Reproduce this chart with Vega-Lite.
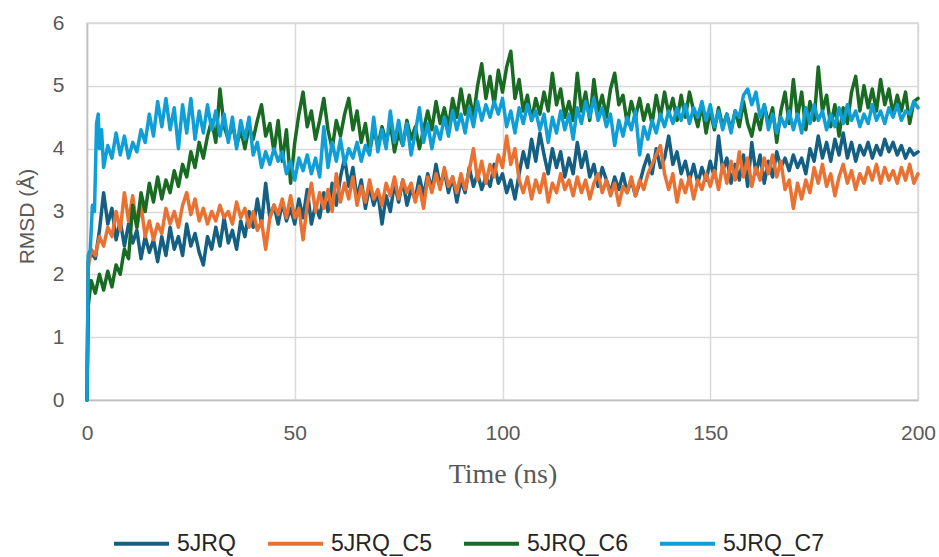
{
  "$schema": "https://vega.github.io/schema/vega-lite/v6.json",
  "width": 831,
  "height": 377,
  "autosize": {"type": "none"},
  "padding": {"left": 87, "top": 23, "right": 21, "bottom": 157},
  "background": "white",
  "datasets": {
    "jrq": [
      {"t":0,"v":0},{"t":0.3,"v":2.2},{"t":1,"v":2.35},{"t":2,"v":2.25},{"t":3,"v":2.7},{"t":4,"v":3.3},{"t":5,"v":2.8},{"t":6,"v":3.05},{"t":7,"v":2.55},{"t":8,"v":2.85},{"t":9,"v":2.45},
      {"t":10,"v":2.8},{"t":11,"v":2.5},{"t":12,"v":2.7},{"t":13,"v":2.25},{"t":14,"v":2.6},{"t":15,"v":2.35},{"t":16,"v":2.55},{"t":17,"v":2.2},{"t":18,"v":2.6},{"t":19,"v":2.3},
      {"t":20,"v":2.75},{"t":21,"v":2.4},{"t":22,"v":2.6},{"t":23,"v":2.3},{"t":24,"v":2.8},{"t":25,"v":2.45},{"t":26,"v":2.65},{"t":27,"v":2.35},{"t":28,"v":2.15},{"t":29,"v":2.6},
      {"t":30,"v":2.4},{"t":31,"v":2.75},{"t":32,"v":2.45},{"t":33,"v":2.9},{"t":34,"v":2.5},{"t":35,"v":2.7},{"t":36,"v":2.4},{"t":37,"v":2.85},{"t":38,"v":2.6},{"t":39,"v":3.0},
      {"t":40,"v":2.75},{"t":41,"v":3.2},{"t":42,"v":2.8},{"t":43,"v":3.45},{"t":44,"v":2.9},{"t":45,"v":3.1},{"t":46,"v":2.8},{"t":47,"v":3.15},{"t":48,"v":2.85},{"t":49,"v":3.05},
      {"t":50,"v":2.8},{"t":51,"v":3.2},{"t":52,"v":2.9},{"t":53,"v":3.35},{"t":54,"v":2.8},{"t":55,"v":3.1},{"t":56,"v":2.9},{"t":57,"v":3.3},{"t":58,"v":3.0},{"t":59,"v":3.45},
      {"t":60,"v":3.1},{"t":61,"v":3.55},{"t":62,"v":3.85},{"t":63,"v":3.4},{"t":64,"v":3.7},{"t":65,"v":3.2},{"t":66,"v":3.5},{"t":67,"v":3.05},{"t":68,"v":3.4},{"t":69,"v":3.1},
      {"t":70,"v":3.3},{"t":71,"v":2.8},{"t":72,"v":3.25},{"t":73,"v":3.0},{"t":74,"v":3.45},{"t":75,"v":3.15},{"t":76,"v":3.5},{"t":77,"v":3.1},{"t":78,"v":3.35},{"t":79,"v":3.2},
      {"t":80,"v":3.55},{"t":81,"v":3.25},{"t":82,"v":3.6},{"t":83,"v":3.35},{"t":84,"v":3.75},{"t":85,"v":3.4},{"t":86,"v":3.65},{"t":87,"v":3.3},{"t":88,"v":3.55},{"t":89,"v":3.15},
      {"t":90,"v":3.5},{"t":91,"v":3.3},{"t":92,"v":3.7},{"t":93,"v":3.4},{"t":94,"v":3.6},{"t":95,"v":3.35},{"t":96,"v":3.55},{"t":97,"v":3.4},{"t":98,"v":3.75},{"t":99,"v":3.45},
      {"t":100,"v":3.6},{"t":101,"v":3.3},{"t":102,"v":3.5},{"t":103,"v":3.2},{"t":104,"v":3.6},{"t":105,"v":3.95},{"t":106,"v":3.7},{"t":107,"v":4.15},{"t":108,"v":3.8},{"t":109,"v":4.25},
      {"t":110,"v":3.9},{"t":111,"v":3.6},{"t":112,"v":4.0},{"t":113,"v":3.7},{"t":114,"v":3.95},{"t":115,"v":3.55},{"t":116,"v":3.85},{"t":117,"v":3.6},{"t":118,"v":4.1},{"t":119,"v":3.7},
      {"t":120,"v":3.95},{"t":121,"v":3.55},{"t":122,"v":3.75},{"t":123,"v":3.4},{"t":124,"v":3.7},{"t":125,"v":3.5},{"t":126,"v":3.3},{"t":127,"v":3.55},{"t":128,"v":3.35},{"t":129,"v":3.6},
      {"t":130,"v":3.3},{"t":131,"v":3.5},{"t":132,"v":3.25},{"t":133,"v":3.45},{"t":134,"v":3.7},{"t":135,"v":3.9},{"t":136,"v":3.6},{"t":137,"v":4.0},{"t":138,"v":3.7},{"t":139,"v":3.85},
      {"t":140,"v":4.2},{"t":141,"v":3.75},{"t":142,"v":3.95},{"t":143,"v":3.6},{"t":144,"v":3.8},{"t":145,"v":3.5},{"t":146,"v":3.75},{"t":147,"v":3.45},{"t":148,"v":3.7},{"t":149,"v":3.5},
      {"t":150,"v":3.8},{"t":151,"v":3.55},{"t":152,"v":4.2},{"t":153,"v":3.65},{"t":154,"v":3.85},{"t":155,"v":3.45},{"t":156,"v":3.75},{"t":157,"v":3.5},{"t":158,"v":3.9},{"t":159,"v":3.4},
      {"t":160,"v":4.1},{"t":161,"v":3.6},{"t":162,"v":3.9},{"t":163,"v":3.45},{"t":164,"v":3.8},{"t":165,"v":3.55},{"t":166,"v":3.95},{"t":167,"v":3.7},{"t":168,"v":3.85},{"t":169,"v":3.65},
      {"t":170,"v":3.9},{"t":171,"v":3.7},{"t":172,"v":3.85},{"t":173,"v":3.6},{"t":174,"v":4.0},{"t":175,"v":3.8},{"t":176,"v":4.2},{"t":177,"v":3.85},{"t":178,"v":4.1},{"t":179,"v":3.8},
      {"t":180,"v":4.15},{"t":181,"v":3.9},{"t":182,"v":4.25},{"t":183,"v":3.85},{"t":184,"v":4.1},{"t":185,"v":3.8},{"t":186,"v":4.05},{"t":187,"v":3.9},{"t":188,"v":4.1},{"t":189,"v":3.85},
      {"t":190,"v":4.05},{"t":191,"v":3.9},{"t":192,"v":4.15},{"t":193,"v":3.95},{"t":194,"v":4.1},{"t":195,"v":3.9},{"t":196,"v":4.05},{"t":197,"v":3.85},{"t":198,"v":4.0},{"t":199,"v":3.9},
      {"t":200,"v":3.95}
    ],
    "c5": [
      {"t":0,"v":0},{"t":0.3,"v":2.1},{"t":1,"v":2.4},{"t":2,"v":2.3},{"t":3,"v":2.6},{"t":4,"v":2.45},{"t":5,"v":2.75},{"t":6,"v":2.6},{"t":7,"v":3.0},{"t":8,"v":2.7},{"t":9,"v":3.3},
      {"t":10,"v":2.85},{"t":11,"v":3.25},{"t":12,"v":2.75},{"t":13,"v":3.1},{"t":14,"v":2.6},{"t":15,"v":2.85},{"t":16,"v":2.55},{"t":17,"v":2.8},{"t":18,"v":2.65},{"t":19,"v":3.05},
      {"t":20,"v":2.8},{"t":21,"v":3.0},{"t":22,"v":2.75},{"t":23,"v":3.1},{"t":24,"v":3.3},{"t":25,"v":2.95},{"t":26,"v":3.2},{"t":27,"v":2.85},{"t":28,"v":3.05},{"t":29,"v":2.8},
      {"t":30,"v":3.0},{"t":31,"v":2.85},{"t":32,"v":3.1},{"t":33,"v":2.9},{"t":34,"v":3.0},{"t":35,"v":2.8},{"t":36,"v":3.15},{"t":37,"v":2.9},{"t":38,"v":3.05},{"t":39,"v":2.75},
      {"t":40,"v":3.0},{"t":41,"v":2.7},{"t":42,"v":2.85},{"t":43,"v":2.4},{"t":44,"v":2.9},{"t":45,"v":3.1},{"t":46,"v":2.95},{"t":47,"v":3.2},{"t":48,"v":2.9},{"t":49,"v":3.25},
      {"t":50,"v":2.9},{"t":51,"v":3.05},{"t":52,"v":2.55},{"t":53,"v":3.1},{"t":54,"v":3.45},{"t":55,"v":3.0},{"t":56,"v":3.3},{"t":57,"v":3.05},{"t":58,"v":3.35},{"t":59,"v":3.0},
      {"t":60,"v":3.6},{"t":61,"v":3.15},{"t":62,"v":3.45},{"t":63,"v":3.2},{"t":64,"v":3.55},{"t":65,"v":3.1},{"t":66,"v":3.4},{"t":67,"v":3.15},{"t":68,"v":3.5},{"t":69,"v":3.2},
      {"t":70,"v":3.35},{"t":71,"v":3.1},{"t":72,"v":3.45},{"t":73,"v":3.25},{"t":74,"v":3.55},{"t":75,"v":3.2},{"t":76,"v":3.5},{"t":77,"v":3.3},{"t":78,"v":3.45},{"t":79,"v":3.15},
      {"t":80,"v":3.4},{"t":81,"v":3.05},{"t":82,"v":3.55},{"t":83,"v":3.3},{"t":84,"v":3.6},{"t":85,"v":3.35},{"t":86,"v":3.7},{"t":87,"v":3.4},{"t":88,"v":3.55},{"t":89,"v":3.3},
      {"t":90,"v":3.6},{"t":91,"v":3.35},{"t":92,"v":3.65},{"t":93,"v":4.0},{"t":94,"v":3.5},{"t":95,"v":3.8},{"t":96,"v":3.45},{"t":97,"v":3.75},{"t":98,"v":3.55},{"t":99,"v":3.9},
      {"t":100,"v":3.7},{"t":101,"v":4.2},{"t":102,"v":3.75},{"t":103,"v":4.0},{"t":104,"v":3.5},{"t":105,"v":3.3},{"t":106,"v":3.55},{"t":107,"v":3.2},{"t":108,"v":3.5},{"t":109,"v":3.3},
      {"t":110,"v":3.6},{"t":111,"v":3.15},{"t":112,"v":3.45},{"t":113,"v":3.3},{"t":114,"v":3.6},{"t":115,"v":3.35},{"t":116,"v":3.5},{"t":117,"v":3.25},{"t":118,"v":3.55},{"t":119,"v":3.3},
      {"t":120,"v":3.5},{"t":121,"v":3.2},{"t":122,"v":3.45},{"t":123,"v":3.6},{"t":124,"v":3.3},{"t":125,"v":3.5},{"t":126,"v":3.25},{"t":127,"v":3.45},{"t":128,"v":3.1},{"t":129,"v":3.4},
      {"t":130,"v":3.3},{"t":131,"v":3.55},{"t":132,"v":3.25},{"t":133,"v":3.5},{"t":134,"v":3.35},{"t":135,"v":3.6},{"t":136,"v":3.75},{"t":137,"v":3.9},{"t":138,"v":4.05},{"t":139,"v":3.6},
      {"t":140,"v":3.35},{"t":141,"v":3.6},{"t":142,"v":3.15},{"t":143,"v":3.5},{"t":144,"v":3.3},{"t":145,"v":3.55},{"t":146,"v":3.2},{"t":147,"v":3.5},{"t":148,"v":3.35},{"t":149,"v":3.6},
      {"t":150,"v":3.4},{"t":151,"v":3.65},{"t":152,"v":3.35},{"t":153,"v":3.75},{"t":154,"v":3.45},{"t":155,"v":3.8},{"t":156,"v":3.5},{"t":157,"v":3.95},{"t":158,"v":3.55},{"t":159,"v":3.85},
      {"t":160,"v":3.4},{"t":161,"v":3.7},{"t":162,"v":3.5},{"t":163,"v":3.85},{"t":164,"v":3.6},{"t":165,"v":3.9},{"t":166,"v":3.55},{"t":167,"v":3.8},{"t":168,"v":3.35},{"t":169,"v":3.5},
      {"t":170,"v":3.05},{"t":171,"v":3.45},{"t":172,"v":3.2},{"t":173,"v":3.5},{"t":174,"v":3.3},{"t":175,"v":3.7},{"t":176,"v":3.45},{"t":177,"v":3.75},{"t":178,"v":3.4},{"t":179,"v":3.6},
      {"t":180,"v":3.25},{"t":181,"v":3.55},{"t":182,"v":3.75},{"t":183,"v":3.45},{"t":184,"v":3.65},{"t":185,"v":3.35},{"t":186,"v":3.6},{"t":187,"v":3.45},{"t":188,"v":3.7},{"t":189,"v":3.5},
      {"t":190,"v":3.75},{"t":191,"v":3.45},{"t":192,"v":3.7},{"t":193,"v":3.5},{"t":194,"v":3.65},{"t":195,"v":3.45},{"t":196,"v":3.7},{"t":197,"v":3.5},{"t":198,"v":3.75},{"t":199,"v":3.45},
      {"t":200,"v":3.6}
    ],
    "c6": [
      {"t":0,"v":0},{"t":0.3,"v":1.5},{"t":1,"v":1.9},{"t":2,"v":1.7},{"t":3,"v":2.0},{"t":4,"v":1.75},{"t":5,"v":2.05},{"t":6,"v":1.8},{"t":7,"v":2.15},{"t":8,"v":2.0},{"t":9,"v":2.4},
      {"t":10,"v":2.25},{"t":11,"v":3.1},{"t":12,"v":2.75},{"t":13,"v":3.3},{"t":14,"v":3.0},{"t":15,"v":3.45},{"t":16,"v":3.15},{"t":17,"v":3.55},{"t":18,"v":3.2},{"t":19,"v":3.5},
      {"t":20,"v":3.3},{"t":21,"v":3.65},{"t":22,"v":3.4},{"t":23,"v":3.75},{"t":24,"v":3.55},{"t":25,"v":3.95},{"t":26,"v":3.7},{"t":27,"v":4.1},{"t":28,"v":3.85},{"t":29,"v":4.2},
      {"t":30,"v":4.45},{"t":31,"v":4.1},{"t":32,"v":4.95},{"t":33,"v":4.35},{"t":34,"v":4.15},{"t":35,"v":4.4},{"t":36,"v":4.05},{"t":37,"v":4.3},{"t":38,"v":4.0},{"t":39,"v":4.35},
      {"t":40,"v":4.15},{"t":41,"v":4.45},{"t":42,"v":4.7},{"t":43,"v":4.2},{"t":44,"v":4.4},{"t":45,"v":3.95},{"t":46,"v":4.45},{"t":47,"v":3.8},{"t":48,"v":4.3},{"t":49,"v":3.45},
      {"t":50,"v":4.1},{"t":51,"v":4.55},{"t":52,"v":4.9},{"t":53,"v":4.35},{"t":54,"v":4.6},{"t":55,"v":4.15},{"t":56,"v":4.45},{"t":57,"v":4.8},{"t":58,"v":4.3},{"t":59,"v":4.0},
      {"t":60,"v":4.45},{"t":61,"v":4.2},{"t":62,"v":4.55},{"t":63,"v":4.8},{"t":64,"v":4.3},{"t":65,"v":4.6},{"t":66,"v":4.1},{"t":67,"v":4.4},{"t":68,"v":3.95},{"t":69,"v":4.3},
      {"t":70,"v":4.05},{"t":71,"v":4.35},{"t":72,"v":4.1},{"t":73,"v":4.4},{"t":74,"v":3.95},{"t":75,"v":4.25},{"t":76,"v":4.05},{"t":77,"v":4.45},{"t":78,"v":4.15},{"t":79,"v":4.35},
      {"t":80,"v":4.0},{"t":81,"v":4.3},{"t":82,"v":4.6},{"t":83,"v":4.3},{"t":84,"v":4.75},{"t":85,"v":4.4},{"t":86,"v":4.65},{"t":87,"v":4.35},{"t":88,"v":4.8},{"t":89,"v":4.5},
      {"t":90,"v":4.95},{"t":91,"v":4.55},{"t":92,"v":4.85},{"t":93,"v":4.5},{"t":94,"v":5.0},{"t":95,"v":5.35},{"t":96,"v":4.8},{"t":97,"v":5.15},{"t":98,"v":4.7},{"t":99,"v":5.25},
      {"t":100,"v":4.9},{"t":101,"v":5.3},{"t":102,"v":5.55},{"t":103,"v":4.8},{"t":104,"v":5.1},{"t":105,"v":4.6},{"t":106,"v":4.85},{"t":107,"v":4.45},{"t":108,"v":4.8},{"t":109,"v":4.55},
      {"t":110,"v":4.9},{"t":111,"v":4.6},{"t":112,"v":5.2},{"t":113,"v":4.7},{"t":114,"v":4.95},{"t":115,"v":4.5},{"t":116,"v":4.75},{"t":117,"v":4.45},{"t":118,"v":5.2},{"t":119,"v":4.6},
      {"t":120,"v":4.9},{"t":121,"v":4.45},{"t":122,"v":5.1},{"t":123,"v":4.6},{"t":124,"v":4.85},{"t":125,"v":4.5},{"t":126,"v":4.95},{"t":127,"v":5.2},{"t":128,"v":4.7},{"t":129,"v":4.85},
      {"t":130,"v":4.4},{"t":131,"v":4.75},{"t":132,"v":4.5},{"t":133,"v":4.8},{"t":134,"v":4.45},{"t":135,"v":4.7},{"t":136,"v":4.4},{"t":137,"v":4.85},{"t":138,"v":4.5},{"t":139,"v":4.9},
      {"t":140,"v":4.55},{"t":141,"v":4.8},{"t":142,"v":4.45},{"t":143,"v":4.85},{"t":144,"v":4.5},{"t":145,"v":4.9},{"t":146,"v":4.6},{"t":147,"v":4.35},{"t":148,"v":4.7},{"t":149,"v":4.25},
      {"t":150,"v":4.6},{"t":151,"v":4.3},{"t":152,"v":4.65},{"t":153,"v":4.35},{"t":154,"v":4.55},{"t":155,"v":4.3},{"t":156,"v":4.6},{"t":157,"v":4.35},{"t":158,"v":4.75},{"t":159,"v":4.4},
      {"t":160,"v":4.2},{"t":161,"v":4.55},{"t":162,"v":4.3},{"t":163,"v":4.7},{"t":164,"v":4.4},{"t":165,"v":4.65},{"t":166,"v":4.1},{"t":167,"v":4.6},{"t":168,"v":4.9},{"t":169,"v":4.4},
      {"t":170,"v":5.1},{"t":171,"v":4.5},{"t":172,"v":4.9},{"t":173,"v":4.3},{"t":174,"v":4.75},{"t":175,"v":4.45},{"t":176,"v":5.3},{"t":177,"v":4.6},{"t":178,"v":4.85},{"t":179,"v":4.35},
      {"t":180,"v":4.7},{"t":181,"v":4.2},{"t":182,"v":4.65},{"t":183,"v":4.4},{"t":184,"v":4.9},{"t":185,"v":5.15},{"t":186,"v":4.6},{"t":187,"v":5.0},{"t":188,"v":4.65},{"t":189,"v":4.95},
      {"t":190,"v":4.6},{"t":191,"v":5.1},{"t":192,"v":4.7},{"t":193,"v":4.95},{"t":194,"v":4.55},{"t":195,"v":4.85},{"t":196,"v":4.6},{"t":197,"v":4.9},{"t":198,"v":4.4},{"t":199,"v":4.75},
      {"t":200,"v":4.8}
    ],
    "c7": [
      {"t":0,"v":0},{"t":0.3,"v":2.3},{"t":0.8,"v":2.4},{"t":1.3,"v":3.1},{"t":1.8,"v":3.0},{"t":2.3,"v":4.4},{"t":2.7,"v":4.55},{"t":3,"v":4.0},{"t":3.5,"v":4.3},{"t":4,"v":3.7},
      {"t":5,"v":4.05},{"t":6,"v":3.85},{"t":7,"v":4.25},{"t":8,"v":3.9},{"t":9,"v":4.2},{"t":10,"v":3.85},{"t":11,"v":4.1},{"t":12,"v":3.95},{"t":13,"v":4.3},{"t":14,"v":4.1},
      {"t":15,"v":4.55},{"t":16,"v":4.2},{"t":17,"v":4.75},{"t":18,"v":4.35},{"t":19,"v":4.8},{"t":20,"v":4.3},{"t":21,"v":4.65},{"t":22,"v":4.0},{"t":23,"v":4.7},{"t":24,"v":4.25},
      {"t":25,"v":4.8},{"t":26,"v":4.15},{"t":27,"v":4.6},{"t":28,"v":4.25},{"t":29,"v":4.7},{"t":30,"v":4.3},{"t":31,"v":4.6},{"t":32,"v":4.2},{"t":33,"v":4.55},{"t":34,"v":4.1},
      {"t":35,"v":4.5},{"t":36,"v":4.0},{"t":37,"v":4.45},{"t":38,"v":4.15},{"t":39,"v":4.5},{"t":40,"v":3.9},{"t":41,"v":4.1},{"t":42,"v":3.7},{"t":43,"v":3.95},{"t":44,"v":3.75},
      {"t":45,"v":4.0},{"t":46,"v":3.8},{"t":47,"v":3.95},{"t":48,"v":3.6},{"t":49,"v":3.8},{"t":50,"v":3.5},{"t":51,"v":3.85},{"t":52,"v":3.65},{"t":53,"v":3.9},{"t":54,"v":3.6},
      {"t":55,"v":3.85},{"t":56,"v":3.55},{"t":57,"v":4.35},{"t":58,"v":3.7},{"t":59,"v":4.1},{"t":60,"v":3.8},{"t":61,"v":4.15},{"t":62,"v":3.75},{"t":63,"v":4.0},{"t":64,"v":3.85},
      {"t":65,"v":4.1},{"t":66,"v":3.8},{"t":67,"v":4.05},{"t":68,"v":3.9},{"t":69,"v":4.5},{"t":70,"v":3.95},{"t":71,"v":4.3},{"t":72,"v":4.0},{"t":73,"v":4.6},{"t":74,"v":4.1},
      {"t":75,"v":4.45},{"t":76,"v":4.05},{"t":77,"v":4.4},{"t":78,"v":3.9},{"t":79,"v":4.25},{"t":80,"v":4.65},{"t":81,"v":4.1},{"t":82,"v":4.4},{"t":83,"v":4.0},{"t":84,"v":4.35},
      {"t":85,"v":4.15},{"t":86,"v":4.5},{"t":87,"v":4.2},{"t":88,"v":4.6},{"t":89,"v":4.3},{"t":90,"v":4.55},{"t":91,"v":4.25},{"t":92,"v":4.65},{"t":93,"v":4.35},{"t":94,"v":4.75},
      {"t":95,"v":4.45},{"t":96,"v":4.7},{"t":97,"v":4.5},{"t":98,"v":4.75},{"t":99,"v":4.55},{"t":100,"v":4.8},{"t":101,"v":4.35},{"t":102,"v":4.6},{"t":103,"v":4.25},{"t":104,"v":4.65},
      {"t":105,"v":4.4},{"t":106,"v":4.7},{"t":107,"v":4.45},{"t":108,"v":4.6},{"t":109,"v":4.3},{"t":110,"v":4.55},{"t":111,"v":4.1},{"t":112,"v":4.5},{"t":113,"v":4.25},{"t":114,"v":4.6},
      {"t":115,"v":4.3},{"t":116,"v":4.55},{"t":117,"v":4.15},{"t":118,"v":4.65},{"t":119,"v":4.4},{"t":120,"v":4.75},{"t":121,"v":4.5},{"t":122,"v":4.8},{"t":123,"v":4.45},{"t":124,"v":4.65},
      {"t":125,"v":4.35},{"t":126,"v":4.55},{"t":127,"v":4.05},{"t":128,"v":4.45},{"t":129,"v":4.2},{"t":130,"v":4.5},{"t":131,"v":4.3},{"t":132,"v":4.6},{"t":133,"v":3.9},{"t":134,"v":4.35},
      {"t":135,"v":4.15},{"t":136,"v":4.45},{"t":137,"v":4.25},{"t":138,"v":4.55},{"t":139,"v":4.35},{"t":140,"v":4.6},{"t":141,"v":4.4},{"t":142,"v":4.65},{"t":143,"v":4.45},{"t":144,"v":4.7},
      {"t":145,"v":4.4},{"t":146,"v":4.65},{"t":147,"v":4.5},{"t":148,"v":4.75},{"t":149,"v":4.45},{"t":150,"v":4.7},{"t":151,"v":4.35},{"t":152,"v":4.6},{"t":153,"v":4.3},{"t":154,"v":4.55},
      {"t":155,"v":4.25},{"t":156,"v":4.6},{"t":157,"v":4.5},{"t":158,"v":4.85},{"t":159,"v":4.95},{"t":160,"v":4.7},{"t":161,"v":4.9},{"t":162,"v":4.5},{"t":163,"v":4.7},{"t":164,"v":4.3},
      {"t":165,"v":4.55},{"t":166,"v":4.25},{"t":167,"v":4.5},{"t":168,"v":4.35},{"t":169,"v":4.6},{"t":170,"v":4.3},{"t":171,"v":4.55},{"t":172,"v":4.25},{"t":173,"v":4.65},{"t":174,"v":4.4},
      {"t":175,"v":4.7},{"t":176,"v":4.45},{"t":177,"v":4.6},{"t":178,"v":4.3},{"t":179,"v":4.55},{"t":180,"v":4.35},{"t":181,"v":4.65},{"t":182,"v":4.4},{"t":183,"v":4.7},{"t":184,"v":4.45},
      {"t":185,"v":4.6},{"t":186,"v":4.35},{"t":187,"v":4.55},{"t":188,"v":4.4},{"t":189,"v":4.7},{"t":190,"v":4.45},{"t":191,"v":4.6},{"t":192,"v":4.4},{"t":193,"v":4.65},{"t":194,"v":4.5},
      {"t":195,"v":4.7},{"t":196,"v":4.45},{"t":197,"v":4.6},{"t":198,"v":4.55},{"t":199,"v":4.75},{"t":200,"v":4.65}
    ]
  },
  "encoding": {
    "x": {
      "field": "t",
      "type": "quantitative",
      "scale": {"domain": [0, 200], "nice": false, "zero": false},
      "axis": {
        "values": [0, 50, 100, 150, 200],
        "title": "Time (ns)",
        "titleFont": "Liberation Serif",
        "titleFontSize": 28,
        "titleFontWeight": "normal",
        "titleColor": "#595959",
        "titleBaseline": "alphabetic",
        "titleY": 82,
        "labelPadding": 22,
        "labelFlush": false
      }
    },
    "y": {
      "field": "v",
      "type": "quantitative",
      "scale": {"domain": [0, 6], "nice": false},
      "axis": {
        "values": [0, 1, 2, 3, 4, 5, 6],
        "title": "RMSD (Å)",
        "titleFont": "Liberation Sans",
        "titleFontSize": 21,
        "titleFontWeight": "normal",
        "titleColor": "#595959",
        "titleBaseline": "alphabetic",
        "titleX": -54,
        "titleY": 193,
        "labelPadding": 23,
        "labelFlush": false
      }
    },
    "color": {
      "scale": {
        "domain": ["5JRQ", "5JRQ_C5", "5JRQ_C6", "5JRQ_C7"],
        "range": ["#156082", "#E97132", "#196B24", "#0F9ED5"]
      },
      "legend": {
        "title": null,
        "orient": "none",
        "direction": "horizontal",
        "legendX": 25,
        "legendY": 491,
        "symbolType": "stroke",
        "symbolSize": 3025,
        "symbolStrokeWidth": 4,
        "labelFont": "Liberation Sans",
        "labelFontSize": 23,
        "labelColor": "#262626",
        "labelOffset": 6,
        "columnPadding": 24,
        "labelLimit": 300
      }
    }
  },
  "layer": [
    {"data": {"name": "jrq"}, "mark": {"type": "line", "strokeWidth": 3.5, "strokeJoin": "round", "strokeCap": "round"}, "encoding": {"color": {"datum": "5JRQ"}}},
    {"data": {"name": "c5"}, "mark": {"type": "line", "strokeWidth": 3.5, "strokeJoin": "round", "strokeCap": "round"}, "encoding": {"color": {"datum": "5JRQ_C5"}}},
    {"data": {"name": "c6"}, "mark": {"type": "line", "strokeWidth": 3.5, "strokeJoin": "round", "strokeCap": "round"}, "encoding": {"color": {"datum": "5JRQ_C6"}}},
    {"data": {"name": "c7"}, "mark": {"type": "line", "strokeWidth": 3.5, "strokeJoin": "round", "strokeCap": "round"}, "encoding": {"color": {"datum": "5JRQ_C7"}}}
  ],
  "config": {
    "view": {"stroke": "#d9d9d9", "strokeWidth": 1.5},
    "axis": {
      "grid": true,
      "gridColor": "#d9d9d9",
      "gridWidth": 1.5,
      "domainColor": "#bfbfbf",
      "domainWidth": 1.5,
      "ticks": false,
      "labelFont": "Liberation Sans",
      "labelFontSize": 21,
      "labelColor": "#595959"
    }
  }
}
